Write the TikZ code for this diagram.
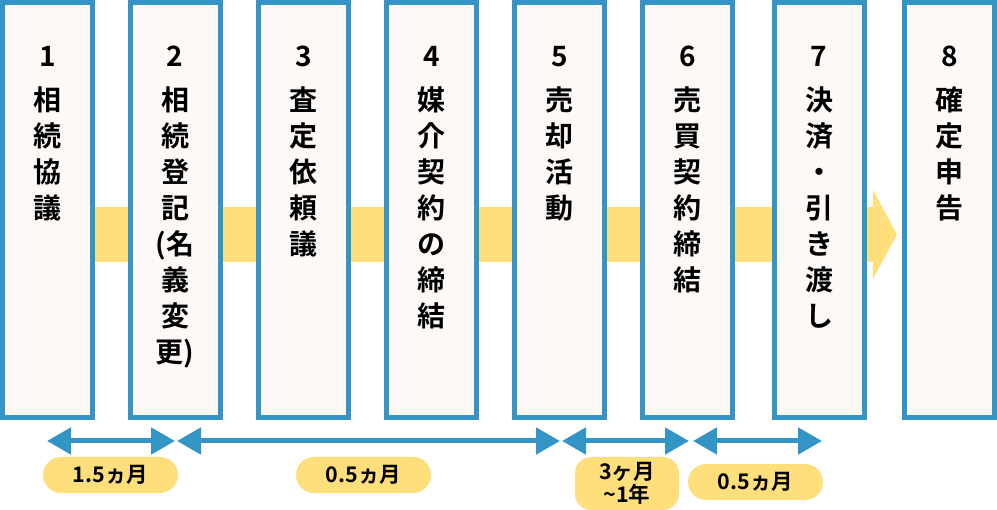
\documentclass[tikz,border=0pt]{standalone}
\usepackage{fontspec}
\setmainfont{Noto Sans CJK JP}[BoldFont={Noto Sans CJK JP Bold}]
\usetikzlibrary{arrows.meta}
\definecolor{cblue}{HTML}{3394C6}
\definecolor{cyellow}{HTML}{FFDF7B}
\definecolor{ccream}{HTML}{FDF9F6}
\begin{document}
\begin{tikzpicture}[x=1pt,y=-1pt,
 stepbox/.style={draw=cblue, line width=5pt, fill=ccream, minimum width=90pt, minimum height=415pt, inner sep=0pt},
 numtxt/.style={font=\fontsize{28}{34}\selectfont\bfseries, anchor=base, inner sep=0pt},
 chartxt/.style={font=\fontsize{28}{34}\selectfont\bfseries, anchor=base, inner sep=0pt},
 pill/.style={fill=cyellow, rounded corners=18pt, minimum width=135pt, minimum height=36pt, inner sep=0pt, font=\fontsize{21.5}{23}\selectfont\bfseries},
 span/.style={draw=cblue, line width=5pt, {Triangle[length=24pt,width=26pt]}-{Triangle[length=24pt,width=26pt]}}
]
\useasboundingbox (0,0) rectangle (997,510);
% yellow band
\fill[cyellow] (47,207) -- (873,207) -- (873,190) -- (897,234.5) -- (873,279) -- (873,262) -- (47,262) -- cycle;
% boxes
\foreach \cx [count=\n] in {47.5,175,303.5,431.5,559.5,687.5,819,949.5} {
  \node[stepbox] (box\n) at (\cx,210) {};
  \node[numtxt] (num\n) at (\cx,67) {\n};
}
\foreach \t [count=\k] in {相,続,協,議}
  \node[chartxt] (b1c\k) at (47.5,74.6+36*\k) {\t};
\foreach \t [count=\k] in {相,続,登,記,{(名},義,変,{更)}}
  \node[chartxt] (b2c\k) at (175,74.6+36*\k) {\t};
\foreach \t [count=\k] in {査,定,依,頼,議}
  \node[chartxt] (b3c\k) at (303.5,74.6+36*\k) {\t};
\foreach \t [count=\k] in {媒,介,契,約,の,締,結}
  \node[chartxt] (b4c\k) at (431.5,74.6+36*\k) {\t};
\foreach \t [count=\k] in {売,却,活,動}
  \node[chartxt] (b5c\k) at (559.5,74.6+36*\k) {\t};
\foreach \t [count=\k] in {売,買,契,約,締,結}
  \node[chartxt] (b6c\k) at (687.5,74.6+36*\k) {\t};
\foreach \t [count=\k] in {決,済,・,引,き,渡,し}
  \node[chartxt] (b7c\k) at (819,74.6+36*\k) {\t};
\foreach \t [count=\k] in {確,定,申,告}
  \node[chartxt] (b8c\k) at (949.5,74.6+36*\k) {\t};
% spans
\coordinate (s1a) at (47,441);
\coordinate (s1b) at (175,441);
\coordinate (s2a) at (177,441);
\coordinate (s2b) at (560,441);
\coordinate (s3a) at (562,441);
\coordinate (s3b) at (689,441);
\coordinate (s4a) at (693,441);
\coordinate (s4b) at (822,441);
\draw[span] (s1a) -- (s1b);
\draw[span] (s2a) -- (s2b);
\draw[span] (s3a) -- (s3b);
\draw[span] (s4a) -- (s4b);
% labels
\node[pill] (p1) at (110.5,475) {1.5ヵ月};
\node[pill] (p2) at (363.5,475) {0.5ヵ月};
\node[pill, minimum width=104pt, minimum height=53pt, rounded corners=16pt, align=center] (p3) at (627,483.5) {3ヶ月\\\textasciitilde1年};
\node[pill] (p4) at (755.5,482) {0.5ヵ月};
\end{tikzpicture}
\end{document}
